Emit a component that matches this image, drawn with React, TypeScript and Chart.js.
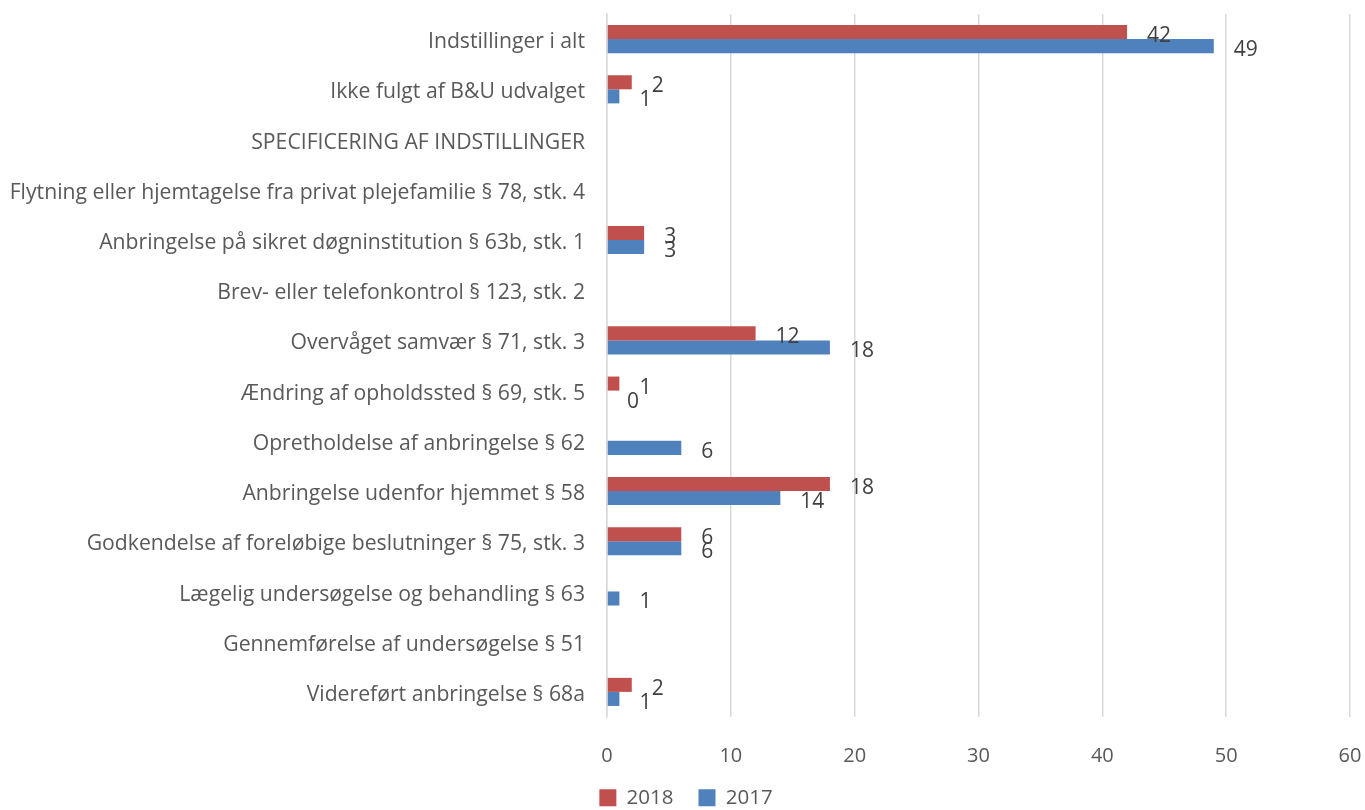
import React, { useEffect, useRef } from "react";
import { Chart, registerables } from "chart.js";

Chart.register(...registerables);

const categories: string[] = [
  "Indstillinger i alt",
  "Ikke fulgt af B&U udvalget",
  "SPECIFICERING AF INDSTILLINGER",
  "Flytning eller hjemtagelse fra privat plejefamilie § 78, stk. 4",
  "Anbringelse på sikret døgninstitution § 63b, stk. 1",
  "Brev- eller telefonkontrol § 123, stk. 2",
  "Overvåget samvær § 71, stk. 3",
  "Ændring af opholdssted § 69, stk. 5",
  "Opretholdelse af anbringelse § 62",
  "Anbringelse udenfor hjemmet § 58",
  "Godkendelse af foreløbige beslutninger § 75, stk. 3",
  "Lægelig undersøgelse og behandling § 63",
  "Gennemførelse af undersøgelse § 51",
  "Videreført anbringelse § 68a",
];

const values2018: (number | null)[] = [42, 2, null, null, 3, null, 12, 1, null, 18, 6, null, null, 2];
const values2017: (number | null)[] = [49, 1, null, null, 3, null, 18, 0, 6, 14, 6, 1, null, 1];

const seriesLabels: string[] = ["2018", "2017"];
const xTicks: number[] = [0, 10, 20, 30, 40, 50, 60];

const FONT = "'Open Sans', sans-serif";
const TEXT = "#595959";

const dataLabelPlugin = {
  id: "barValueLabels",
  afterDatasetsDraw(chart: any) {
    const ctx = chart.ctx;
    ctx.save();
    ctx.font = `21px ${FONT}`;
    ctx.fillStyle = "#404040";
    ctx.textAlign = "left";
    ctx.textBaseline = "middle";
    chart.data.datasets.forEach((ds: any, di: number) => {
      const meta = chart.getDatasetMeta(di);
      meta.data.forEach((el: any, i: number) => {
        const v = ds.data[i];
        if (v === null || v === undefined) return;
        ctx.fillText(String(v), el.x + 20, el.y + 4);
      });
    });
    ctx.restore();
  },
};

const legendShiftPlugin = {
  id: "legendShift",
  afterLayout(chart: any) {
    if (chart.legend) {
      chart.legend.left = 22;
    }
  },
};

export default function App() {
  const ref = useRef<HTMLCanvasElement | null>(null);
  useEffect(() => {
    document.body.style.margin = "0";
    if (!ref.current) return;
    const chart = new Chart(ref.current, {
      type: "bar",
      data: {
        labels: categories,
        datasets: [
          {
            label: seriesLabels[0],
            data: values2018 as any,
            backgroundColor: "#C0504D",
            categoryPercentage: 0.56,
            barPercentage: 1,
          },
          {
            label: seriesLabels[1],
            data: values2017 as any,
            backgroundColor: "#4F81BD",
            categoryPercentage: 0.56,
            barPercentage: 1,
          },
        ],
      },
      options: {
        indexAxis: "y",
        responsive: false,
        animation: false,
        layout: { autoPadding: false, padding: { top: 14, right: 15, bottom: -8, left: 0 } },
        scales: {
          x: {
            min: 0,
            max: 60,
            afterBuildTicks: (scale: any) => {
              scale.ticks = xTicks.map((v) => ({ value: v }));
            },
            afterFit: (scale: any) => {
              scale.height = 45.5;
              scale.paddingLeft = 0;
              scale.paddingRight = 0;
            },
            grid: { color: "#D9D9D9", lineWidth: 1.5, drawTicks: false },
            border: { display: false },
            ticks: { color: TEXT, font: { family: FONT, size: 20 }, padding: 27 },
          },
          y: {
            afterFit: (scale: any) => {
              scale.width = 607;
              scale.paddingTop = 0;
              scale.paddingBottom = 0;
            },
            grid: { display: false, drawTicks: false },
            border: { display: true, color: "#D9D9D9", width: 1.5 },
            ticks: {
              color: TEXT,
              font: { family: FONT, size: 21.2 },
              padding: 22,
              labelOffset: 3,
              autoSkip: false,
            },
          },
        },
        plugins: {
          legend: {
            position: "bottom",
            labels: {
              color: TEXT,
              font: { family: FONT, size: 20.5 },
              boxWidth: 17,
              boxHeight: 17,
              padding: 25,
            },
          },
          tooltip: { enabled: false },
        },
      },
      plugins: [dataLabelPlugin, legendShiftPlugin],
    } as any);
    return () => chart.destroy();
  }, []);
  return (
    <div style={{ width: 1365, height: 810 }}>
      <canvas ref={ref} width={1365} height={810} style={{ display: "block" }} />
    </div>
  );
}
